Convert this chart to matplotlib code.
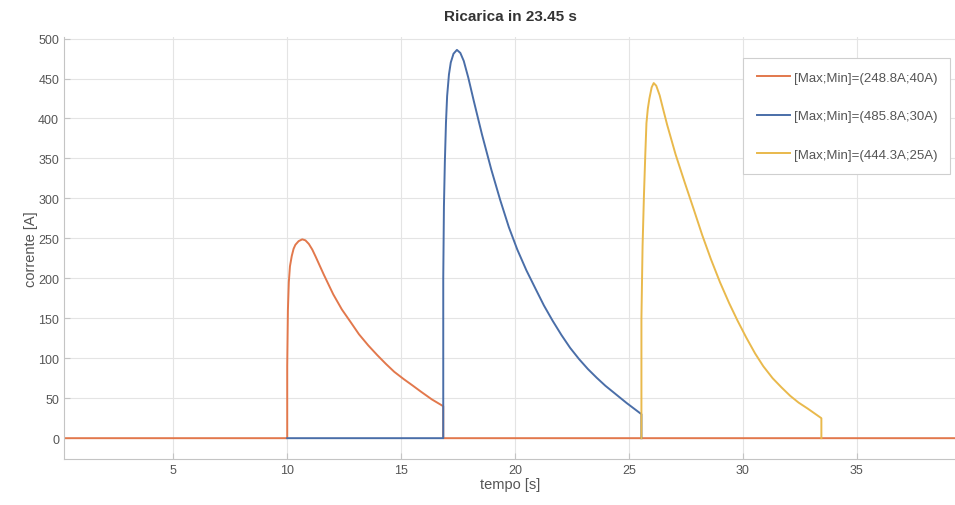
import matplotlib.pyplot as plt

# [1]. (tempo [s], corrente [A])
t_arancio = [0.2, 10.0, 10.0, 10.03, 10.07, 10.12, 10.2, 10.28, 10.36, 10.5, 10.66,
             10.8, 10.95, 11.1, 11.25, 11.6, 12.02, 12.4, 12.79, 13.15, 13.56,
             13.95, 14.33, 14.7, 15.11, 15.5, 15.88, 16.35, 16.85, 16.85, 39.4]
i_arancio = [0, 0, 90, 160, 195, 215, 228, 237, 242, 246.5, 248.8,
             247.5, 243, 236, 227, 205, 180, 161, 145, 130, 116,
             104, 93, 83, 74, 66, 58, 48.5, 40, 0, 0]

t_blu = [10.0, 16.85, 16.85, 16.88, 16.92, 16.97, 17.02, 17.1, 17.18, 17.3, 17.45,
         17.6, 17.75, 17.95, 18.19, 18.55, 18.96, 19.35, 19.73, 20.1, 20.5,
         20.9, 21.27, 21.65, 22.04, 22.42, 22.81, 23.2, 23.59, 23.97, 24.36,
         24.9, 25.55, 25.55]
i_blu = [0, 0, 200, 290, 345, 395, 428, 455, 470, 481, 485.8,
         482, 472, 451, 422, 380, 336, 298, 264, 236, 210,
         187, 166, 147, 129, 113, 99, 86.5, 75.5, 65.5, 56.5,
         44, 30, 0]

t_giallo = [25.55, 25.55, 25.6, 25.66, 25.72, 25.77, 25.83, 25.9, 26.0, 26.09,
            26.2, 26.35, 26.5, 26.68, 27.05, 27.45, 27.85, 28.22, 28.6, 29.0,
            29.4, 29.77, 30.15, 30.54, 30.9, 31.31, 31.7, 32.08, 32.45, 32.85,
            33.15, 33.45, 33.45]
i_giallo = [0, 150, 240, 303, 355, 394, 412, 425, 439, 444.3,
            441, 429, 412, 392, 355, 320, 286, 254, 224, 195,
            169, 147, 126, 106, 90, 75, 63.5, 53, 44.5, 37,
            31, 25, 0]

etichette = ["[Max;Min]=(248.8A;40A)", "[Max;Min]=(485.8A;30A)", "[Max;Min]=(444.3A;25A)"]
colori = ["#e2784c", "#4a6ea8", "#e9b94c"]

plt.rcParams['font.family'] = ['Liberation Sans', 'DejaVu Sans']

# [2]. Figura e assi
fig = plt.figure(figsize=(9.55, 5.06), dpi=100)
ax = fig.add_axes([0.067, 0.091, 0.935, 0.834])

ax.plot(t_arancio, i_arancio, color=colori[0], lw=1.4, label=etichette[0])
ax.plot(t_blu, i_blu, color=colori[1], lw=1.4, label=etichette[1])
ax.plot(t_giallo, i_giallo, color=colori[2], lw=1.4, label=etichette[2])

ax.set_xlim(0.2, 39.4)
ax.set_ylim(-26, 502)
ax.set_xticks(range(5, 40, 5))
ax.set_yticks(range(0, 501, 50))

# [3]. Stile tipo MATLAB
ax.grid(True, color="#e4e4e4", lw=0.8)
ax.set_axisbelow(True)
for lato in ["top", "right"]:
    ax.spines[lato].set_visible(False)
for lato in ["left", "bottom"]:
    ax.spines[lato].set_color("#c4c4c4")
ax.tick_params(direction="in", colors="#c4c4c4", labelcolor="#555555",
               labelsize=9, length=4)

ax.set_title("Ricarica in 23.45 s", fontsize=11, fontweight="bold", color="#333333", pad=12)
ax.set_xlabel("tempo [s]", fontsize=10.5, color="#555555", labelpad=1)
ax.set_ylabel("corrente [A]", fontsize=10.5, color="#555555", labelpad=0)

leg = ax.legend(loc="upper right", bbox_to_anchor=(1.0, 0.965), fontsize=9.5,
                labelspacing=2.0, handlelength=2.5, handletextpad=0.3,
                borderpad=1.0, fancybox=False, framealpha=1)
leg.get_frame().set_edgecolor("#cfcfcf")
leg.get_frame().set_linewidth(0.8)
for testo in leg.get_texts():
    testo.set_color("#555555")

fig.savefig("out.png", dpi=100)
